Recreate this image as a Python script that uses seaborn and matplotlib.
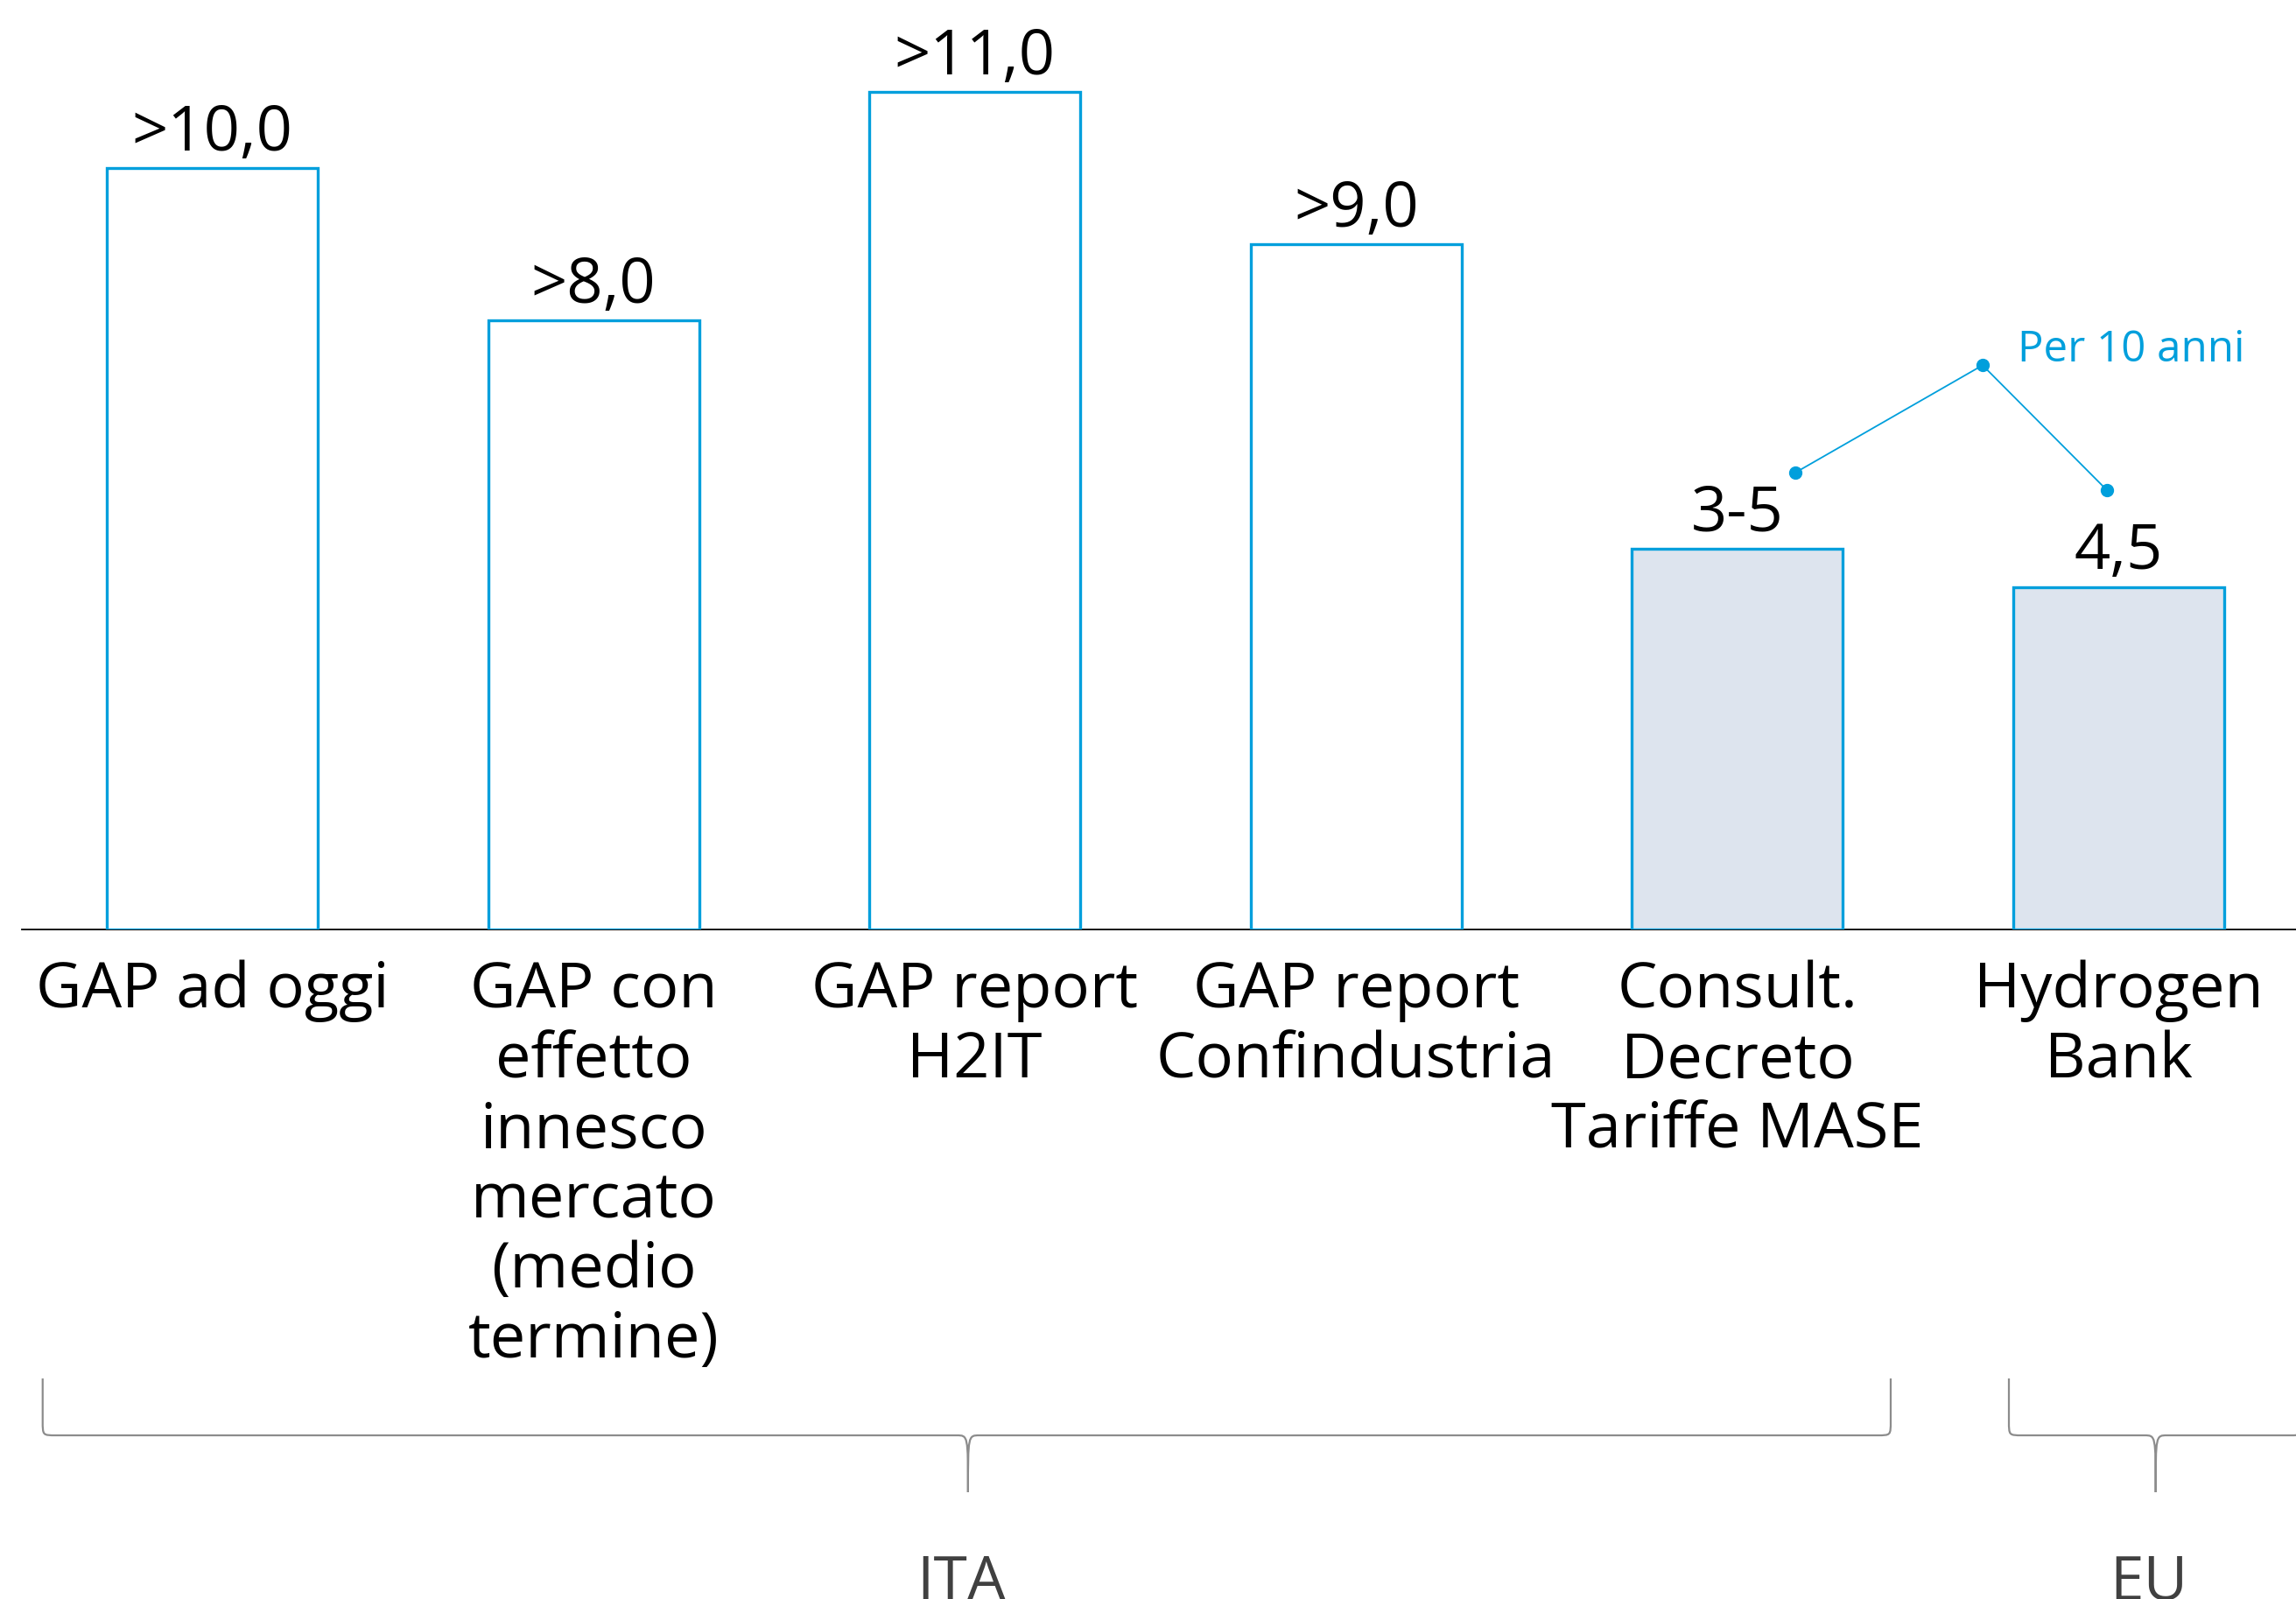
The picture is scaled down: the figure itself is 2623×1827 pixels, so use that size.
import matplotlib
matplotlib.use("Agg")
import matplotlib.pyplot as plt
from matplotlib.path import Path
from matplotlib.patches import PathPatch
import seaborn as sns
import pandas as pd

# ---- data ----
categories = ["GAP ad oggi",
              "GAP con\neffetto\ninnesco\nmercato\n(medio\ntermine)",
              "GAP report\nH2IT",
              "GAP report\nConfindustria",
              "Consult.\nDecreto\nTariffe MASE",
              "Hydrogen\nBank"]
values = [10.0, 8.0, 11.0, 9.0, 5.0, 4.5]
value_labels = [">10,0", ">8,0", ">11,0", ">9,0", "3-5", "4,5"]
groups = ["ITA", "ITA", "ITA", "ITA", "ITA", "EU"]
annot_x = [4.152, 4.643, 4.969]
annot_y = [6.0, 7.41, 5.77]
annot_text = "Per 10 anni"

# ---- style ----
BLUE = "#009FDC"
FILL = ["white", "white", "white", "white", "#DDE4EE", "#DDE4EE"]
GRAY = "#8C8C8C"

sns.set_theme(style="white")
plt.rcParams['font.family'] = ['Open Sans', 'DejaVu Sans']

W, H = 2623, 1827
fig = plt.figure(figsize=(W / 100, H / 100), dpi=100)
base_px = 1062
ax = fig.add_axes([25 / W, 1 - base_px / H, (W - 25) / W, base_px / H])

df = pd.DataFrame({"cat": categories, "val": values})
sns.barplot(data=df, x="cat", y="val", hue="cat", palette=FILL,
            legend=False, width=0.553, ax=ax, saturation=1)
for p in ax.patches:
    p.set_edgecolor(BLUE)
    p.set_linewidth(2.4)
    p.set_zorder(3)

ax.set_xlim(-0.4995, 5.465)
ypx = 87.0
ax.set_ylim(0, base_px / ypx)
for s in ["top", "right", "left"]:
    ax.spines[s].set_visible(False)
ax.spines["bottom"].set_color("black")
ax.spines["bottom"].set_linewidth(1.3)
ax.spines["bottom"].set_zorder(1)
ax.set_yticks([])
ax.set_xlabel("")
ax.set_ylabel("")
ax.set_xticks(range(len(categories)))
ax.set_xticklabels(categories, fontsize=52, color="black",
                   linespacing=1.155, multialignment="center")
ax.tick_params(axis="x", length=0, pad=25)

for i, (v, lab) in enumerate(zip(values, value_labels)):
    ax.text(i, v + 0.23, lab, ha="center", va="baseline", fontsize=52,
            color="black")

ax.plot(annot_x, annot_y, color=BLUE, lw=1.3, marker="o", markersize=10,
        zorder=4, clip_on=False)
ax.text(4.735, 7.46, annot_text, ha="left", va="baseline", fontsize=35.5,
        color=BLUE)


def y_of(py):
    return (base_px - py) / ypx


def brace(x0, x1, xc, yt, ym, yb):
    r = 0.035
    w = 0.03
    yk = yt + 0.75 * (ym - yt)
    verts = [(x0, yt), (x0, yk), (x0, ym), (x0, ym), (x0 + r, ym),
             (xc - w, ym), (xc, ym), (xc, ym), (xc, yb),
             (xc, yb), (xc, ym), (xc, ym), (xc + w, ym),
             (x1 - r, ym), (x1, ym), (x1, ym), (x1, yk), (x1, yt)]
    codes = [Path.MOVETO, Path.LINETO, Path.CURVE4, Path.CURVE4, Path.CURVE4,
             Path.LINETO, Path.CURVE4, Path.CURVE4, Path.CURVE4,
             Path.MOVETO, Path.CURVE4, Path.CURVE4, Path.CURVE4,
             Path.LINETO, Path.CURVE4, Path.CURVE4, Path.CURVE4, Path.LINETO]
    patch = PathPatch(Path(verts, codes), facecolor="none", edgecolor=GRAY,
                      lw=1.6, clip_on=False)
    ax.add_patch(patch)


yt, ym, yb = y_of(1575), y_of(1640), y_of(1705)
brace(-0.445, 4.402, 1.982, yt, ym, yb)
brace(4.712, 5.483, 5.097, yt, ym, yb)

ylab = y_of(1828)
ax.text(1.965, ylab, "ITA", ha="center", va="baseline", fontsize=50,
        color="#404040", clip_on=False)
ax.text(5.08, ylab, "EU", ha="center", va="baseline", fontsize=50,
        color="#404040", clip_on=False)

fig.savefig("out.png", dpi=100)
